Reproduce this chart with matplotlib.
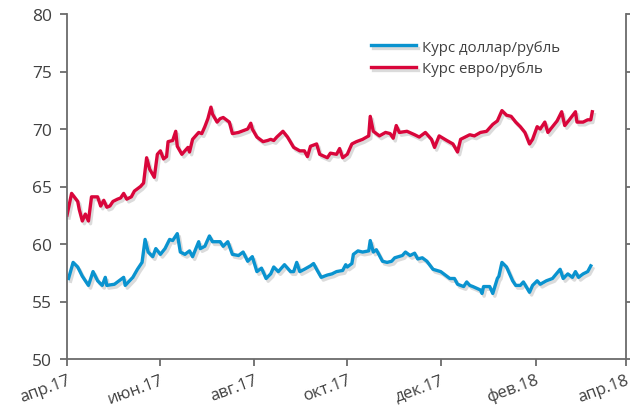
import matplotlib
matplotlib.use("Agg")
import matplotlib.pyplot as plt
import matplotlib.patheffects as pe
import pandas as pd

# курс евро/рубль
eur_dates = [
    "2017-04-01", "2017-04-04", "2017-04-08", "2017-04-09", "2017-04-11", "2017-04-13",
    "2017-04-15", "2017-04-17", "2017-04-21", "2017-04-23", "2017-04-25", "2017-04-27",
    "2017-04-29", "2017-05-01", "2017-05-04", "2017-05-06", "2017-05-08", "2017-05-10",
    "2017-05-13", "2017-05-15", "2017-05-19", "2017-05-21", "2017-05-23", "2017-05-25",
    "2017-05-28", "2017-05-30", "2017-06-01", "2017-06-03", "2017-06-05", "2017-06-06",
    "2017-06-09", "2017-06-11", "2017-06-12", "2017-06-15", "2017-06-17", "2017-06-19",
    "2017-06-20", "2017-06-22", "2017-06-26", "2017-06-28", "2017-06-30", "2017-07-02",
    "2017-07-04", "2017-07-05", "2017-07-08", "2017-07-10", "2017-07-12", "2017-07-16",
    "2017-07-18", "2017-07-22", "2017-07-24", "2017-07-28", "2017-07-30", "2017-07-31",
    "2017-08-03", "2017-08-07", "2017-08-10", "2017-08-12", "2017-08-14", "2017-08-16",
    "2017-08-20", "2017-08-23", "2017-08-27", "2017-08-31", "2017-09-03", "2017-09-05",
    "2017-09-07", "2017-09-11", "2017-09-13", "2017-09-18", "2017-09-20", "2017-09-24",
    "2017-09-26", "2017-09-28", "2017-10-01", "2017-10-04", "2017-10-07", "2017-10-11",
    "2017-10-15", "2017-10-16", "2017-10-18", "2017-10-22", "2017-10-26", "2017-10-29",
    "2017-10-31", "2017-11-02", "2017-11-04", "2017-11-09", "2017-11-14", "2017-11-17",
    "2017-11-21", "2017-11-25", "2017-11-27", "2017-11-30", "2017-12-05", "2017-12-09",
    "2017-12-12", "2017-12-14", "2017-12-17", "2017-12-20", "2017-12-23", "2017-12-27",
    "2017-12-31", "2018-01-04", "2018-01-07", "2018-01-10", "2018-01-13", "2018-01-16",
    "2018-01-19", "2018-01-22", "2018-01-25", "2018-01-28", "2018-01-30", "2018-02-02",
    "2018-02-04", "2018-02-07", "2018-02-09", "2018-02-12", "2018-02-15", "2018-02-18",
    "2018-02-20", "2018-02-23", "2018-02-27", "2018-02-28", "2018-03-04", "2018-03-07",
    "2018-03-09", "2018-03-10",
]
eur_values = [
    62.5, 64.4, 63.7, 63.0, 62.0, 62.6,
    62.0, 64.1, 64.1, 63.3, 63.8, 63.2,
    63.3, 63.7, 63.9, 64.0, 64.4, 63.9,
    64.1, 64.6, 65.0, 65.3, 67.5, 66.5,
    65.8, 67.8, 68.1, 67.4, 67.6, 68.9,
    69.0, 69.8, 68.5, 67.8, 68.1, 68.4,
    68.0, 69.1, 69.7, 69.6, 70.2, 70.9,
    71.9, 71.3, 70.6, 70.9, 71.0, 70.6,
    69.6, 69.7, 69.8, 70.0, 70.5, 70.0,
    69.3, 68.9, 69.0, 69.1, 69.0, 69.3,
    69.8, 69.3, 68.4, 68.1, 68.1, 67.6,
    68.5, 68.7, 67.8, 67.5, 67.9, 67.8,
    68.3, 67.5, 67.8, 68.7, 68.9, 69.1,
    69.4, 71.1, 69.8, 69.4, 69.7, 69.6,
    69.2, 70.3, 69.7, 69.8, 69.5, 69.3,
    69.7, 69.1, 68.4, 69.4, 69.0, 68.7,
    68.0, 69.1, 69.3, 69.5, 69.4, 69.7,
    69.8, 70.4, 70.7, 71.6, 71.2, 71.1,
    70.6, 70.2, 69.7, 68.7, 69.1, 70.2,
    70.0, 70.6, 69.7, 70.2, 70.7, 71.5,
    70.3, 70.8, 71.5, 70.6, 70.6, 70.8,
    70.8, 71.5,
]

# курс доллар/рубль
usd_dates = [
    "2017-04-02", "2017-04-05", "2017-04-08", "2017-04-11", "2017-04-15", "2017-04-18",
    "2017-04-21", "2017-04-24", "2017-04-26", "2017-04-27", "2017-05-02", "2017-05-08",
    "2017-05-09", "2017-05-14", "2017-05-17", "2017-05-20", "2017-05-22", "2017-05-24",
    "2017-05-27", "2017-05-29", "2017-06-01", "2017-06-04", "2017-06-07", "2017-06-09",
    "2017-06-12", "2017-06-14", "2017-06-17", "2017-06-20", "2017-06-22", "2017-06-26",
    "2017-06-27", "2017-06-30", "2017-07-03", "2017-07-05", "2017-07-10", "2017-07-12",
    "2017-07-15", "2017-07-18", "2017-07-22", "2017-07-25", "2017-07-28", "2017-07-31",
    "2017-08-03", "2017-08-06", "2017-08-09", "2017-08-12", "2017-08-14", "2017-08-17",
    "2017-08-21", "2017-08-25", "2017-08-27", "2017-08-29", "2017-08-31", "2017-09-03",
    "2017-09-07", "2017-09-09", "2017-09-11", "2017-09-14", "2017-09-18", "2017-09-21",
    "2017-09-24", "2017-09-28", "2017-09-30", "2017-10-01", "2017-10-04", "2017-10-05",
    "2017-10-08", "2017-10-11", "2017-10-15", "2017-10-16", "2017-10-18", "2017-10-20",
    "2017-10-24", "2017-10-27", "2017-10-30", "2017-11-01", "2017-11-06", "2017-11-08",
    "2017-11-11", "2017-11-14", "2017-11-16", "2017-11-19", "2017-11-22", "2017-11-26",
    "2017-12-01", "2017-12-05", "2017-12-07", "2017-12-10", "2017-12-12", "2017-12-16",
    "2017-12-18", "2017-12-20", "2017-12-22", "2017-12-27", "2017-12-28", "2017-12-29",
    "2018-01-02", "2018-01-04", "2018-01-07", "2018-01-08", "2018-01-10", "2018-01-13",
    "2018-01-17", "2018-01-19", "2018-01-22", "2018-01-24", "2018-01-28", "2018-01-30",
    "2018-02-02", "2018-02-04", "2018-02-08", "2018-02-12", "2018-02-17", "2018-02-19",
    "2018-02-22", "2018-02-25", "2018-02-27", "2018-03-01", "2018-03-04", "2018-03-07",
    "2018-03-09",
]
usd_values = [
    57.0, 58.4, 58.0, 57.2, 56.4, 57.6,
    56.8, 56.4, 57.1, 56.4, 56.5, 57.1,
    56.4, 57.1, 57.8, 58.4, 60.4, 59.3,
    58.9, 59.6, 59.1, 59.6, 60.4, 60.3,
    60.9, 59.3, 59.1, 59.4, 58.9, 60.2,
    59.6, 59.8, 60.7, 60.2, 60.2, 59.8,
    60.2, 59.1, 59.0, 59.3, 58.5, 58.9,
    57.6, 57.9, 57.0, 57.4, 58.0, 57.6,
    58.2, 57.6, 57.6, 58.4, 57.6, 57.8,
    58.1, 58.3, 57.8, 57.1, 57.3, 57.4,
    57.6, 57.7, 58.2, 58.0, 58.3, 59.1,
    59.4, 59.3, 59.4, 60.3, 59.3, 59.5,
    58.5, 58.4, 58.5, 58.8, 59.0, 59.3,
    59.0, 59.2, 58.7, 58.8, 58.5, 57.8,
    57.6, 57.2, 57.0, 57.0, 56.5, 56.3,
    56.7, 56.4, 56.3, 56.0, 55.7, 56.3,
    56.3, 55.7, 57.0, 57.2, 58.4, 58.0,
    56.8, 56.4, 56.4, 56.7, 55.8, 56.4,
    56.8, 56.5, 56.8, 57.0, 57.8, 57.0,
    57.4, 57.1, 57.6, 57.1, 57.4, 57.6,
    58.1,
]

month_ticks = ["2017-04-01", "2017-06-01", "2017-08-01", "2017-10-01",
               "2017-12-01", "2018-02-01", "2018-04-01"]
month_labels = ["апр.17", "июн.17", "авг.17", "окт.17", "дек.17", "фев.18", "апр.18"]
y_ticks = [50, 55, 60, 65, 70, 75, 80]

plt.rcParams["font.family"] = ["Open Sans", "DejaVu Sans"]

fig = plt.figure(figsize=(6.3, 4.1), dpi=100)
ax = fig.add_axes([67 / 630, 1 - 360 / 410, (626 - 67) / 630, (360 - 15) / 410])

shadow = [pe.SimpleLineShadow(offset=(1.5, -2), shadow_color="#9a9a9a", alpha=0.35),
          pe.Normal()]
ax.plot(pd.to_datetime(usd_dates), usd_values, color="#0a93cf", lw=2.4,
        label="Курс доллар/рубль", path_effects=shadow, solid_joinstyle="round")
ax.plot(pd.to_datetime(eur_dates), eur_values, color="#d9063b", lw=2.4,
        label="Курс евро/рубль", path_effects=shadow, solid_joinstyle="round")

ax.set_xlim(pd.Timestamp("2017-04-01"), pd.Timestamp("2018-04-01"))
ax.set_ylim(50, 80)
ax.set_yticks(y_ticks)
ax.set_xticks(pd.to_datetime(month_ticks))
ax.set_xticklabels(month_labels, rotation=20, ha="right", rotation_mode="anchor",
                   fontsize=12)

axis_col = "#6b6b6b"
for side in ["left", "right", "bottom"]:
    ax.spines[side].set_color(axis_col)
    ax.spines[side].set_linewidth(1.3)
ax.spines["top"].set_visible(False)
ax.tick_params(axis="both", direction="out", length=5, width=1.3, color=axis_col,
               labelcolor="#404040")
ax.tick_params(axis="y", right=True, labelright=False, pad=6, labelsize=12.5)
ax.tick_params(axis="x", pad=4)

leg = ax.legend(loc="upper left", bbox_to_anchor=(0.52, 0.965), frameon=False,
                fontsize=10.8, handlelength=3.0, handletextpad=0.4, labelspacing=0.45,
                labelcolor="#404040")

fig.savefig("out.png", dpi=100)
